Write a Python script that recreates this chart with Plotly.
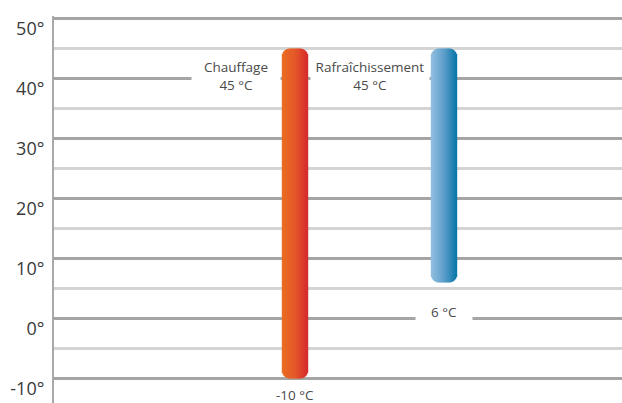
import numpy as np
import plotly.graph_objects as go

# Operating temperature ranges of the heat pump
systems = ["Chauffage", "Rafraîchissement"]
t_max = [45, 45]
t_min = [-10, 6]
max_labels = ["Chauffage<br>45 °C", "Rafraîchissement<br>45 °C"]
min_labels = ["-10 °C", "6 °C"]

y_ticks = [-10, 0, 10, 20, 30, 40, 50]
y_tick_text = [f"{v}°" for v in y_ticks]

# Horizontal colour gradients (left edge -> right edge) of each bar
gradients = [
    ["#ea6d20", "#e5592a", "#d62a2c"],
    ["#93c0e1", "#5f9fcb", "#0676a7"],
]

W, H = 622, 403
M_L, M_T = 54, 16
PX_PER_X = 149.0          # pixels between bar centres
PX_PER_DEG = 6.0
BAR_PX = 26               # bar width in pixels
RADIUS_PX = 8             # corner radius in pixels
N_STRIPS = 26

plot_w = W - M_L
plot_h = H - M_T
x0 = -(295 - M_L) / PX_PER_X
x_range = [x0, x0 + plot_w / PX_PER_X]
y_top = 50 + 2.5 / PX_PER_DEG
y_range = [y_top - plot_h / PX_PER_DEG, y_top]


def hex_to_rgb(h):
    h = h.lstrip("#")
    return np.array([int(h[i:i + 2], 16) for i in (0, 2, 4)], dtype=float)


def colour_at(stops, f):
    pos = np.linspace(0, 1, len(stops))
    rgb = [hex_to_rgb(s) for s in stops]
    k = min(int(f * (len(stops) - 1)), len(stops) - 2)
    t = (f - pos[k]) / (pos[k + 1] - pos[k])
    c = rgb[k] * (1 - t) + rgb[k + 1] * t
    return "rgb({:.0f},{:.0f},{:.0f})".format(*c)


fig = go.Figure()

for i, (lo, hi) in enumerate(zip(t_min, t_max)):
    for s in range(N_STRIPS):
        u = (s + 0.5) / N_STRIPS * BAR_PX          # px from the left edge
        edge = min(u, BAR_PX - u)
        if edge < RADIUS_PX:
            d = RADIUS_PX - np.sqrt(RADIUS_PX ** 2 - (RADIUS_PX - edge) ** 2)
        else:
            d = 0.0
        dy = d / PX_PER_DEG
        xs = i + (u - BAR_PX / 2) / PX_PER_X
        fig.add_trace(go.Scatter(
            x=[xs, xs], y=[lo + dy, hi - dy], mode="lines",
            line=dict(color=colour_at(gradients[i], u / BAR_PX), width=1.4),
            hoverinfo="skip", showlegend=False,
        ))

label_font = dict(family="Open Sans", size=13.5, color="#4a4a4a")

# Upper limit labels (white box interrupts the grid line)
fig.add_annotation(x=0, y=t_max[0], text=max_labels[0], showarrow=False,
                   xshift=-59, yshift=-27, bgcolor="white", width=88, height=40,
                   borderpad=0, font=label_font)
fig.add_annotation(x=0.5, y=t_max[1], text=max_labels[1], showarrow=False,
                   xshift=0, yshift=-27, bgcolor="white", width=118, height=40,
                   borderpad=0, font=label_font)

# Lower limit labels
fig.add_annotation(x=0, y=t_min[0], text=min_labels[0], showarrow=False,
                   yshift=-16.5, font=label_font)
fig.add_annotation(x=1, y=t_min[1], text=min_labels[1], showarrow=False,
                   yshift=-29.5, bgcolor="white", width=56, height=20,
                   borderpad=0, font=label_font)

fig.update_layout(
    width=W, height=H,
    margin=dict(l=M_L, r=0, t=M_T, b=0),
    paper_bgcolor="white", plot_bgcolor="white",
    showlegend=False,
    xaxis=dict(range=x_range, visible=False, showgrid=False, zeroline=False),
    yaxis=dict(
        range=y_range, tickvals=y_ticks, ticktext=y_tick_text,
        showgrid=True, gridcolor="#a5a5a5", gridwidth=2.5,
        minor=dict(dtick=5, tick0=-10, showgrid=True,
                   gridcolor="#d4d4d4", gridwidth=2.5),
        zeroline=False,
        showline=True, linecolor="#a9a9a9", linewidth=2,
        ticks="", ticklabelshift=10, ticklabelstandoff=4,
        tickfont=dict(family="Open Sans", size=18, color="#3a3a3a"),
    ),
)

fig.write_html("out.html")
